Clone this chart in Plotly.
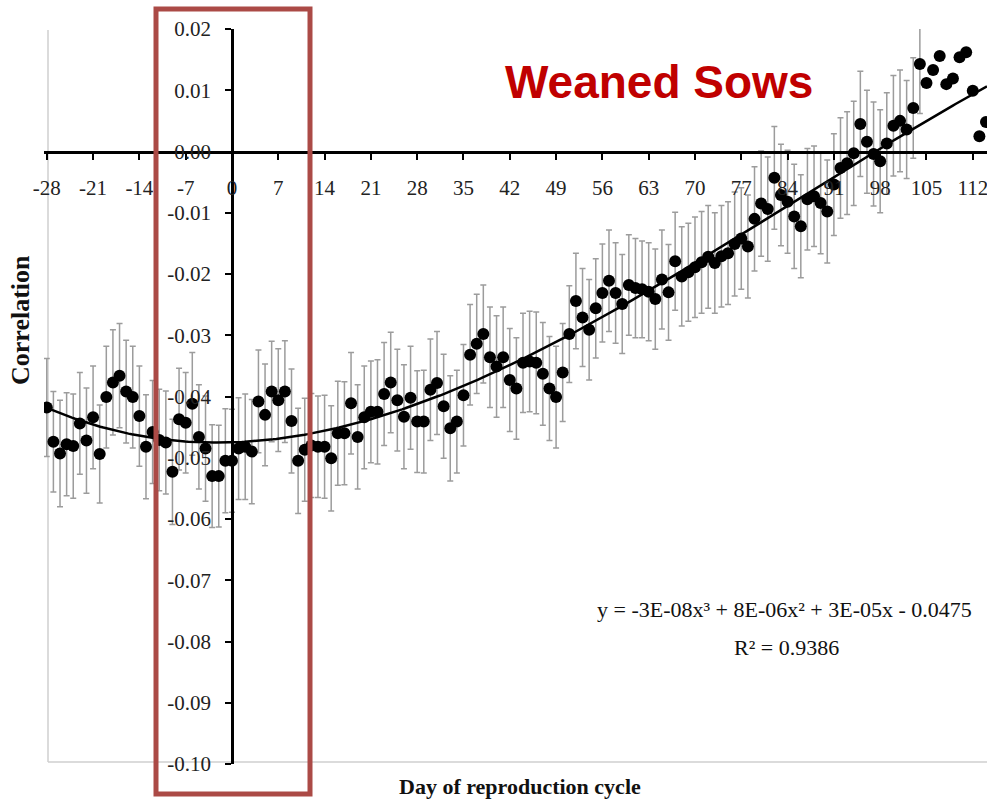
import numpy as np
import plotly.graph_objects as go

# ---------------- data ----------------
days = list(range(-28, 115))

correlation = [
    -0.0418, -0.0474, -0.0493, -0.0478, -0.0481, -0.0444, -0.0472, -0.0434, -0.0494, -0.0401,  # -28..-19
    -0.0377, -0.0366, -0.0392, -0.0401, -0.0432, -0.0482, -0.0458, -0.0471, -0.0475, -0.0523,  # -18..-9
    -0.0437, -0.0443, -0.0412, -0.0466, -0.0485, -0.0530, -0.0530, -0.0505,                    # -8..-1
    -0.0505, -0.0485, -0.0482, -0.0490, -0.0408, -0.0430, -0.0392, -0.0406, -0.0392, -0.0440,  # 0..9
    -0.0505, -0.0487, -0.0480, -0.0482, -0.0482, -0.0501, -0.0460, -0.0460, -0.0411, -0.0466,  # 10..19
    -0.0434, -0.0425, -0.0425, -0.0396, -0.0377, -0.0406, -0.0433, -0.0402, -0.0441, -0.0441,  # 20..29
    -0.0389, -0.0378, -0.0416, -0.0452, -0.0441, -0.0398, -0.0332, -0.0314, -0.0298, -0.0336,  # 30..39
    -0.0351, -0.0336, -0.0373, -0.0387, -0.0345, -0.0343, -0.0345, -0.0363, -0.0387, -0.0401,  # 40..49
    -0.0361, -0.0298, -0.0244, -0.0271, -0.0291, -0.0256, -0.0231, -0.0211, -0.0231, -0.0249,  # 50..59
    -0.0218, -0.0223, -0.0225, -0.0229, -0.0241, -0.0209, -0.0230, -0.0179, -0.0204, -0.0197,  # 60..69
    -0.0189, -0.0181, -0.0172, -0.0182, -0.0171, -0.0166, -0.0151, -0.0142, -0.0155, -0.0110,  # 70..79
    -0.0085, -0.0094, -0.0043, -0.0071, -0.0082, -0.0106, -0.0122, -0.0078, -0.0073, -0.0084,  # 80..89
    -0.0098, -0.0054, -0.0027, -0.0019, -0.0003, 0.0045, 0.0016, -0.0004, -0.0016, 0.0013,     # 90..99
    0.0042, 0.0050, 0.0036, 0.0071, 0.0143, 0.0112, 0.0133, 0.0156, 0.0110, 0.0119,            # 100..109
    0.0154, 0.0162, 0.0099, 0.0025, 0.0048,                                                    # 110..114
]

error = [
    0.0080, 0.0082, 0.0087, 0.0084, 0.0085, 0.0083, 0.0086, 0.0084, 0.0080, 0.0083,
    0.0086, 0.0085, 0.0084, 0.0083, 0.0082, 0.0085, 0.0084, 0.0083, 0.0084, 0.0086,
    0.0083, 0.0082, 0.0084, 0.0085, 0.0086, 0.0084, 0.0083, 0.0085,
    0.0084, 0.0083, 0.0086, 0.0085, 0.0084, 0.0083, 0.0082, 0.0084, 0.0083, 0.0085,
    0.0086, 0.0084, 0.0085, 0.0083, 0.0084, 0.0086, 0.0085, 0.0084, 0.0083, 0.0085,
    0.0084, 0.0083, 0.0085, 0.0084, 0.0082, 0.0083, 0.0085, 0.0084, 0.0083, 0.0084,
    0.0083, 0.0084, 0.0085, 0.0086, 0.0084, 0.0083, 0.0082, 0.0081, 0.0080, 0.0082,
    0.0083, 0.0082, 0.0084, 0.0083, 0.0081, 0.0082, 0.0083, 0.0084, 0.0085, 0.0083,
    0.0080, 0.0079, 0.0078, 0.0080, 0.0082, 0.0081, 0.0080, 0.0083, 0.0082, 0.0081,
    0.0082, 0.0081, 0.0079, 0.0080, 0.0082, 0.0081, 0.0078, 0.0080, 0.0081, 0.0080,
    0.0082, 0.0083, 0.0084, 0.0082, 0.0083, 0.0084, 0.0085, 0.0083, 0.0084, 0.0085,
    0.0086, 0.0085, 0.0084, 0.0083, 0.0084, 0.0085, 0.0084, 0.0083, 0.0082, 0.0083,
    0.0084, 0.0083, 0.0082, 0.0084, 0.0085, 0.0086, 0.0084, 0.0085, 0.0084, 0.0083,
    0.0082, 0.0083, 0.0080, 0.0082, 0.0081,
]

# trendline (the source data extends past the cropped edge)
trend_days = [-28, -23, -18, -12, -5, 0, 12, 20, 25, 33, 38.5, 48.6, 58.7, 68.8, 78.8, 83, 89, 93, 98, 103, 105, 113]
trend_vals = [-0.0419, -0.0440, -0.0454, -0.0465, -0.0474, -0.0476, -0.0460, -0.0443, -0.0427, -0.0391,
              -0.0363, -0.0313, -0.0252, -0.0193, -0.0120, -0.0093, -0.0057, -0.0025, 0.0000, 0.0033,
              0.0049, 0.0104]

x_ticks = list(range(-28, 113, 7))
y_ticks = [0.02, 0.01, 0.00, -0.01, -0.02, -0.03, -0.04, -0.05, -0.06, -0.07, -0.08, -0.09, -0.10]

title_text = "Weaned Sows"
x_title = "Day of reproduction cycle"
y_title = "Correlation"
eq_text = "y = -3E-08x³ + 8E-06x² + 3E-05x - 0.0475"
r2_text = "R² = 0.9386"

# ---------------- layout geometry ----------------
W, H = 987, 799
ML, MR, MT, MB = 44, 0, 29, 35
PW, PH = W - ML - MR, H - MT - MB
X_RANGE = [-28.42, 114.15]
Y_RANGE = [-0.10, 0.02]


def px(xp):
    return (xp - ML) / PW


def py(yp):
    return (H - MB - yp) / PH


SERIF = "Liberation Serif"

# smooth cubic through the read trendline points
coef = np.polyfit(trend_days, trend_vals, 3)
xt = np.linspace(-28, X_RANGE[1], 300)
yt = np.polyval(coef, xt)

fig = go.Figure()

fig.add_trace(go.Scatter(
    x=days, y=correlation, mode="markers",
    marker=dict(color="black", size=12),
    error_y=dict(type="data", array=error, visible=True, color="#9c9c9c",
                 thickness=1.5, width=3),
    showlegend=False, hoverinfo="skip",
))

fig.add_trace(go.Scatter(
    x=xt, y=yt, mode="lines", line=dict(color="black", width=2.5),
    showlegend=False, hoverinfo="skip",
))

ypos_free = (0 - X_RANGE[0]) / (X_RANGE[1] - X_RANGE[0])
xpos_free = (0 - Y_RANGE[0]) / (Y_RANGE[1] - Y_RANGE[0])

fig.update_layout(
    width=W, height=H,
    margin=dict(l=ML, r=MR, t=MT, b=MB, pad=0),
    paper_bgcolor="white", plot_bgcolor="white",
    xaxis=dict(
        range=X_RANGE, showgrid=False, zeroline=False,
        anchor="free", position=xpos_free,
        showline=True, linecolor="black", linewidth=2.5,
        ticks="outside", ticklen=7, tickwidth=2, tickcolor="black",
        tickvals=x_ticks, ticktext=[str(v) for v in x_ticks],
        tickfont=dict(family=SERIF, size=21, color="#222"),
        ticklabelstandoff=10, ticklabeloverflow="allow",
    ),
    yaxis=dict(
        range=Y_RANGE, showgrid=False, zeroline=False,
        anchor="free", position=ypos_free, side="left",
        showline=True, linecolor="black", linewidth=2.5,
        ticks="outside", ticklen=6, tickwidth=2, tickcolor="black",
        tickvals=y_ticks, ticktext=[f"{v:.2f}" for v in y_ticks],
        tickfont=dict(family=SERIF, size=21, color="#222"),
        ticklabelstandoff=10, ticklabeloverflow="allow",
    ),
    shapes=[
        # light plot-area border (left and bottom)
        dict(type="line", xref="paper", yref="paper", x0=px(48), x1=px(48),
             y0=py(762), y1=py(30), line=dict(color="#cfcfcf", width=1.5), layer="below"),
        dict(type="line", xref="paper", yref="paper", x0=px(48), x1=1.0,
             y0=py(762), y1=py(762), line=dict(color="#cfcfcf", width=1.5), layer="below"),
        # red highlight box
        dict(type="rect", xref="paper", yref="paper", x0=px(156), x1=px(310),
             y0=py(794), y1=py(9), line=dict(color="#ab4a46", width=5),
             fillcolor="rgba(0,0,0,0)", layer="above"),
    ],
    annotations=[
        dict(text=f"<b>{title_text}</b>", xref="paper", yref="paper",
             x=px(659), y=py(82), xanchor="center", yanchor="middle", showarrow=False,
             font=dict(family="Liberation Sans", size=46, color="#c00000")),
        dict(text=f"<b>{x_title}</b>", xref="paper", yref="paper",
             x=px(520), y=py(786), xanchor="center", yanchor="middle", showarrow=False,
             font=dict(family=SERIF, size=22, color="#111")),
        dict(text=f"<b>{y_title}</b>", xref="paper", yref="paper",
             x=px(20), y=py(320), xanchor="center", yanchor="middle", showarrow=False,
             textangle=-90, font=dict(family=SERIF, size=26, color="#111")),
        dict(text=eq_text, xref="paper", yref="paper",
             x=px(784), y=py(609), xanchor="center", yanchor="middle", showarrow=False,
             font=dict(family=SERIF, size=22, color="#111")),
        dict(text=r2_text, xref="paper", yref="paper",
             x=px(786), y=py(647), xanchor="center", yanchor="middle", showarrow=False,
             font=dict(family=SERIF, size=22, color="#111")),
    ],
)

fig.write_html("out.html")
